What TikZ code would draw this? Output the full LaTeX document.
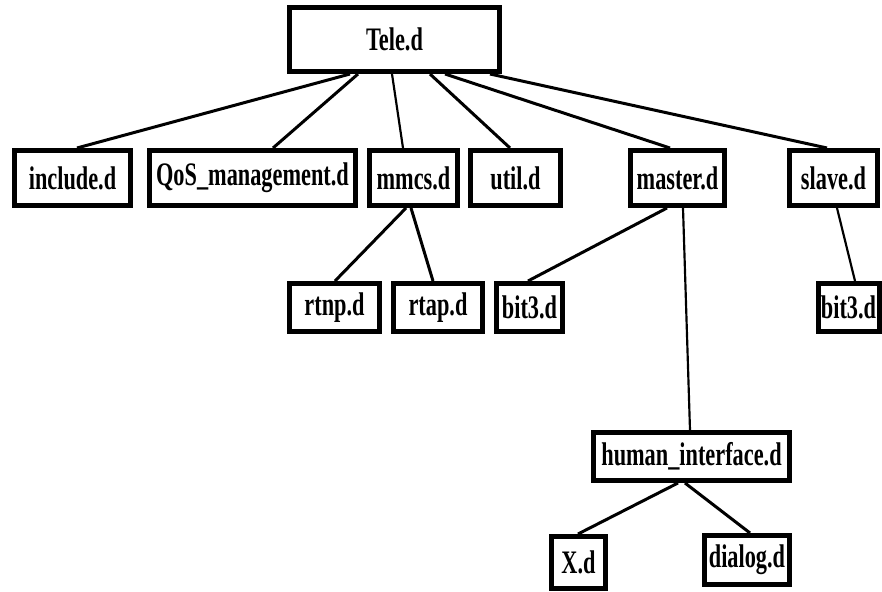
\documentclass[tikz,border=0pt]{standalone}
\usepackage{fontspec}
\setmainfont{Liberation Serif}[FakeStretch=0.68]
\usetikzlibrary{positioning}

\begin{document}
\begin{tikzpicture}
 [ x=0.03cm
 , y=-0.03cm
 , dirbox/.style={draw, fill=white, line width=0.15cm, inner sep=0pt,
     font=\fontsize{28}{32}\selectfont\bfseries}
 , branch/.style={line width=0.09cm}
 , thinbranch/.style={line width=0.065cm}
 ]
  \useasboundingbox (0,0) rectangle (882,592);

  % root
  \node[dirbox, minimum width=6.30cm, minimum height=1.92cm] (tele) at (394.5,39.5) {Tele.d};

  % first level
  \node[dirbox, minimum width=3.48cm, minimum height=1.65cm] (include) at (72.5,178) {include.d};
  \node[dirbox, minimum width=6.18cm, minimum height=1.65cm] (qos) at (252.5,178) {QoS\_management.d};
  \node[dirbox, minimum width=2.64cm, minimum height=1.65cm] (mmcs) at (413.5,178) {mmcs.d};
  \node[dirbox, minimum width=2.70cm, minimum height=1.65cm] (util) at (515.5,178) {util.d};
  \node[dirbox, minimum width=2.82cm, minimum height=1.65cm] (master) at (677.5,178) {master.d};
  \node[dirbox, minimum width=2.64cm, minimum height=1.65cm] (slave) at (833.5,178) {slave.d};

  % second level
  \node[dirbox, minimum width=2.70cm, minimum height=1.44cm] (rtnp) at (334.5,307.5) {rtnp.d};
  \node[dirbox, minimum width=2.67cm, minimum height=1.44cm] (rtap) at (438,307.5) {rtap.d};
  \node[dirbox, minimum width=1.98cm, minimum height=1.44cm] (masterbit) at (529.5,307.5) {bit3.d};
  \node[dirbox, minimum width=1.83cm, minimum height=1.44cm] (slavebit) at (848.5,307.5) {bit3.d};

  % third level
  \node[dirbox, minimum width=5.88cm, minimum height=1.44cm] (human) at (691.5,456.5) {human\_interface.d};
  \node[dirbox, minimum width=1.62cm, minimum height=1.56cm] (xd) at (578.5,562.5) {X.d};
  \node[dirbox, minimum width=2.55cm, minimum height=1.47cm] (dialog) at (747,560) {dialog.d};

  % connectors
  \draw[branch] (tele.south -| 350,0) -- (include.north -| 77,0);
  \draw[branch] (tele.south -| 358,0) -- (qos.north -| 273,0);
  \draw[thinbranch] (tele.south -| 392,0) -- (mmcs.north -| 403,0);
  \draw[branch] (tele.south -| 430,0) -- (util.north -| 510,0);
  \draw[branch] (tele.south -| 445,0) -- (master.north -| 670,0);
  \draw[branch] (tele.south -| 490,0) -- (slave.north -| 827,0);

  \draw[branch] (mmcs.south -| 406,0) -- (rtnp.north -| 335,0);
  \draw[branch] (mmcs.south -| 411,0) -- (rtap.north -| 433,0);
  \draw[branch] (master.south -| 667,0) -- (masterbit.north -| 528,0);
  \draw[thinbranch] (master.south -| 683,0) -- (human.north -| 690,0);
  \draw[thinbranch] (slave.south -| 837,0) -- (slavebit.north -| 855,0);

  \draw[branch] (human.south -| 678,0) -- (xd.north -| 578,0);
  \draw[branch] (human.south -| 685,0) -- (dialog.north -| 750,0);
\end{tikzpicture}
\end{document}
